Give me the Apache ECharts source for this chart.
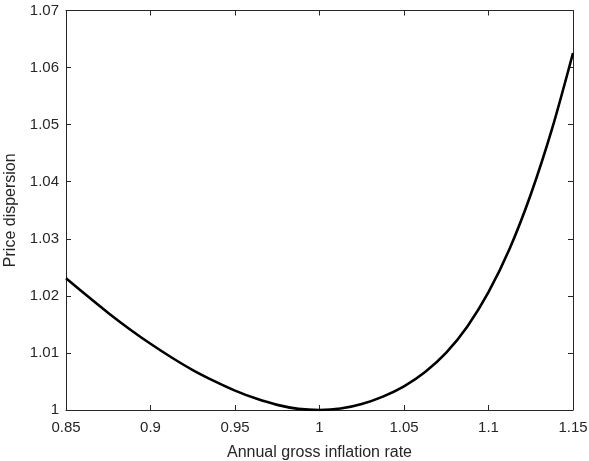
<!DOCTYPE html>
<html>
<head>
<meta charset="utf-8">
<script src="https://cdn.jsdelivr.net/npm/echarts@6/dist/echarts.min.js"></script>
<style>html,body{margin:0;padding:0;background:#fff}#c{width:589px;height:461px}</style>
</head>
<body>
<div id="c"></div>
<script>
// Data
var inflation = [0.85, 0.8625, 0.875, 0.8875, 0.9, 0.9125, 0.925, 0.9375, 0.95, 0.9625, 0.975, 0.9875, 1.0,
                 1.0125, 1.025, 1.0375, 1.05, 1.0625, 1.075, 1.0875, 1.1, 1.1125, 1.125, 1.1375, 1.15];
var dispersion = [1.0231, 1.0200, 1.0170, 1.0142, 1.0116, 1.0092, 1.0070, 1.0051, 1.0034, 1.0020, 1.0009, 1.0002, 1.0000,
                  1.00025, 1.00105, 1.00235, 1.00415, 1.00665, 1.01005, 1.01465, 1.02065, 1.02825, 1.03775, 1.04915, 1.06255];
var xTitle = 'Annual gross inflation rate';
var yTitle = 'Price dispersion';

var axisColor = '#262626';
var font = 'Liberation Sans, Arial, Helvetica, sans-serif';
var pts = inflation.map(function (x, i) { return [x, dispersion[i]]; });

function xAx(pos, show) {
  return {
    type: 'value', position: pos, min: 0.85, max: 1.15, interval: 0.05,
    axisLine: { show: true, onZero: false, lineStyle: { color: axisColor, width: 1 } },
    axisTick: { show: true, inside: true, length: 5, lineStyle: { color: axisColor } },
    axisLabel: { show: show, margin: 10, color: axisColor, fontSize: 15, fontFamily: font },
    splitLine: { show: false },
    name: show ? xTitle : '', nameLocation: 'middle', nameGap: 35,
    nameTextStyle: { color: axisColor, fontSize: 16, fontFamily: font }
  };
}
function yAx(pos, show) {
  return {
    type: 'value', position: pos, min: 1, max: 1.07, interval: 0.01,
    axisLine: { show: true, onZero: false, lineStyle: { color: axisColor, width: 1 } },
    axisTick: { show: true, inside: true, length: 5, lineStyle: { color: axisColor } },
    axisLabel: { show: show, margin: 7, color: axisColor, fontSize: 15, fontFamily: font },
    splitLine: { show: false },
    name: show ? yTitle : '', nameLocation: 'middle', nameGap: 42,
    nameTextStyle: { color: axisColor, fontSize: 16, fontFamily: font }
  };
}

var chart = echarts.init(document.getElementById('c'), null, { renderer: 'canvas' });
chart.setOption({
  animation: false,
  backgroundColor: '#ffffff',
  grid: { left: 66, right: 16, top: 10.5, bottom: 51, containLabel: false, outerBoundsMode: 'none' },
  xAxis: [xAx('bottom', true), xAx('top', false)],
  yAxis: [yAx('left', true), yAx('right', false)],
  series: [{
    type: 'line', data: pts, xAxisIndex: 0, yAxisIndex: 0,
    smooth: 0.3, showSymbol: false,
    lineStyle: { color: '#000000', width: 2.6 }
  }]
});
</script>
</body>
</html>
